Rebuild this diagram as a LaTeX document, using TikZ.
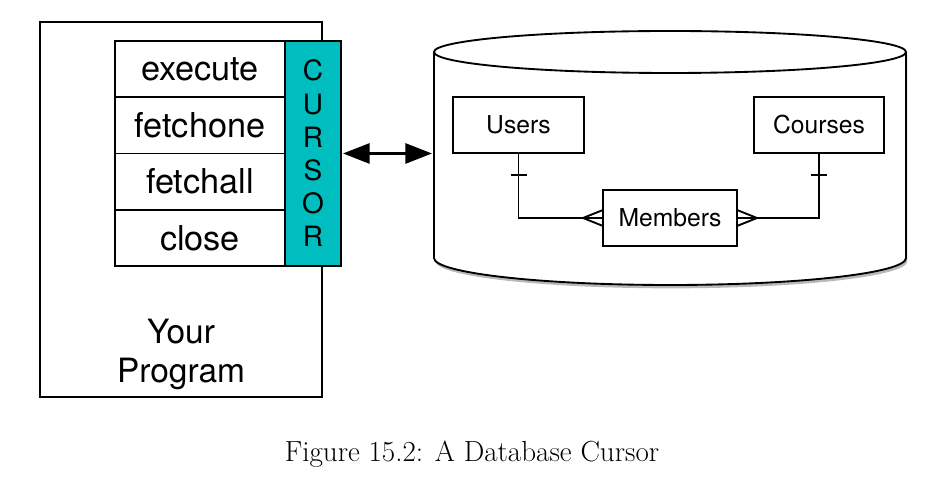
\documentclass[tikz,border=0pt]{standalone}
\usepackage{fontspec}
\newfontfamily\heros{TeX Gyre Heros}
\usetikzlibrary{positioning,calc,arrows.meta,shadows}
\definecolor{cursorteal}{RGB}{0,190,192}
\tikzset{
  prog method/.style={rectangle, draw, fill=white, line width=1.4pt, outer sep=0pt, inner sep=0pt, minimum width=127.5pt, minimum height=42.2pt, font=\heros\fontsize{25.7}{30}\selectfont},
  cursor box/.style={rectangle, draw, fill=cursorteal, line width=1.4pt, outer sep=0pt, inner sep=0pt, minimum width=42pt, minimum height=168.75pt, align=center, font=\heros\fontsize{21}{24.9}\selectfont},
  db table/.style={rectangle, draw, fill=white, line width=1.4pt, outer sep=0pt, minimum width=98pt, minimum height=42pt, font=\heros\fontsize{18.5}{22}\selectfont},
  crow/.style={line width=1.4pt}
}

\begin{document}
\begin{tikzpicture}[x=0.75pt, y=0.75pt]
    \useasboundingbox (0,0) rectangle (934,489);

    % Program
    \node [draw, line width=1.4pt, outer sep=0pt, minimum width=211.5pt, minimum height=281.25pt, anchor=north west] (Prog) at (40,467) {};
    \node [align=center, font=\heros\fontsize{25.1}{29.5}\selectfont] (ProgText) at (181,134.5) {Your\\Program};

    % Methods
    \node [prog method] (Exec) at (200,419.9) {execute};
    \node [prog method, below=0pt of Exec] (FetchOne) {fetchone};
    \node [prog method, below=0pt of FetchOne] (FetchAll) {fetchall};
    \node [prog method, below=0pt of FetchAll] (Close) {close};

    % Cursor
    \node [cursor box, anchor=north west] (Cur) at (Exec.north east) {C\\U\\R\\S\\O\\R};

    % Database
    \fill [white, drop shadow={shadow xshift=1pt, shadow yshift=-2.5pt, opacity=0.55}] (434,437) -- (434,231) arc[start angle=180, end angle=360, x radius=236, y radius=27] -- (906,437) arc[start angle=0, end angle=180, x radius=236, y radius=21] -- cycle;
    \draw [line width=1.4pt] (670,437) ellipse[x radius=236, y radius=21];
    \draw [line width=1.4pt] (434,437) -- (434,231) arc[start angle=180, end angle=360, x radius=236, y radius=27] -- (906,437);
    \coordinate (CylW) at (434,335.5);

    \draw [line width=2.2pt, {Triangle[length=20pt, width=15pt]}-{Triangle[length=20pt, width=15pt]}] ([xshift=1.5pt]Cur.east) -- ([xshift=-1.5pt]CylW);

    % Tables
    \node [db table] (Users) at (518.5,364) {Users};
    \node [db table] (Courses) at (819,364) {Courses};
    \node [db table, minimum width=100.5pt] (Members) at (670,271) {Members};

    % Relationships
    \draw [crow] (Users.south) |- (Members.west);
    \draw [crow] (Courses.south) |- (Members.east);
    \draw [crow] ($(Users.south)+(-8,-22)$) -- ($(Users.south)+(8,-22)$);
    \draw [crow] ($(Courses.south)+(-8,-22)$) -- ($(Courses.south)+(8,-22)$);
    \draw [crow] ($(Members.west)+(0,8)$) -- ($(Members.west)+(-20,0)$) -- ($(Members.west)+(0,-8)$);
    \draw [crow] ($(Members.east)+(0,8)$) -- ($(Members.east)+(20,0)$) -- ($(Members.east)+(0,-8)$);

    % Caption
    \node [font=\fontsize{21.8}{26}\selectfont] (Cap) at (472,35) {Figure 15.2: A Database Cursor};
\end{tikzpicture}
\end{document}
